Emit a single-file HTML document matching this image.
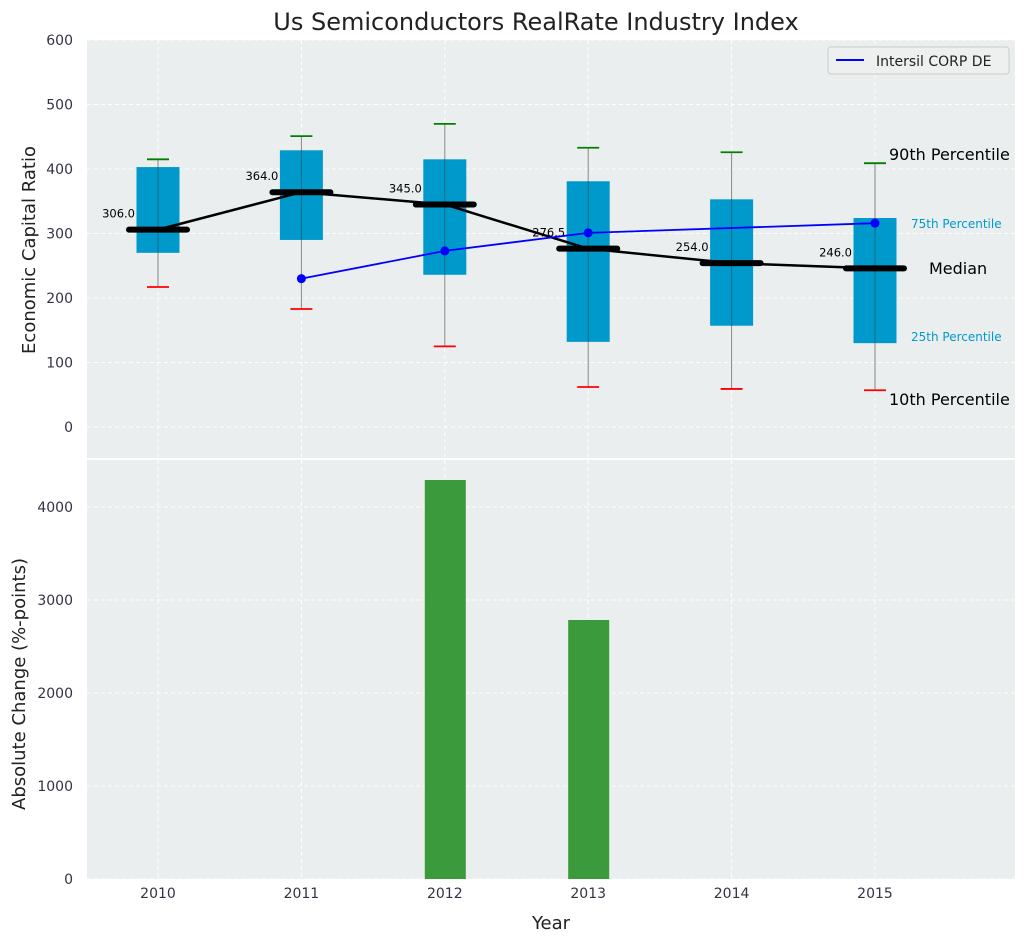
<!DOCTYPE html>
<html><head><meta charset="utf-8"><style>
body{margin:0;background:#fff;font-family:"Liberation Sans","DejaVu Sans",sans-serif}
svg text{font-family:"DejaVu Sans","Liberation Sans",sans-serif}
</style></head><body>
<svg id="chart" width="1026" height="942" xmlns="http://www.w3.org/2000/svg">
<text x="536" y="30" font-size="24" text-anchor="middle" fill="#222">Us Semiconductors RealRate Industry Index</text>
<rect x="87" y="40" width="928" height="418" fill="#eaeeee"/>
<rect x="87" y="460" width="928" height="419" fill="#eaeeee"/>
<g id="gtop"></g><g id="gbot"></g>
<text x="551" y="929" font-size="18" text-anchor="middle" fill="#222">Year</text>
<text transform="translate(35,250) rotate(-90)" font-size="18" text-anchor="middle" fill="#222">Economic Capital Ratio</text>
<text transform="translate(25,684) rotate(-90)" font-size="18" text-anchor="middle" fill="#222">Absolute Change (%-points)</text>
<g>
<rect x="828" y="47" width="181" height="27" fill="#eef0f0" stroke="#ccc" rx="3"/>
<line x1="836" y1="60" x2="864" y2="60" stroke="#0000ff" stroke-width="2"/>
<text x="876" y="66" font-size="14" fill="#222">Intersil CORP DE</text>
</g>
<text x="889" y="160" font-size="16" fill="#000">90th Percentile</text>
<text x="911" y="228" font-size="12" fill="#0099cc">75th Percentile</text>
<text x="929" y="274" font-size="16" fill="#000">Median</text>
<text x="911" y="341" font-size="12" fill="#0099cc">25th Percentile</text>
<text x="889" y="405" font-size="16" fill="#000">10th Percentile</text>
</svg>
<script>
const years=[2010,2011,2012,2013,2014,2015];
const p10=[217,183,125,62,59,57];
const p25=[270,290,236,132,157,130];
const median=[306.0,364.0,345.0,276.5,254.0,246.0];
const p75=[403,429,415,381,353,324];
const p90=[415,451,470,433,426,409];
const company=[null,230,273,301,null,316];
const changes=[null,null,4290,2785,null,null];
const topTicks=[0,100,200,300,400,500,600];
const botTicks=[0,1000,2000,3000,4000];
const NS="http://www.w3.org/2000/svg";
const X=v=>158+(v-2010)*143.4;
const Y1=v=>427-v*0.645;
const Y2=v=>879-v*0.093;
function mk(p,t,a){const e=document.createElementNS(NS,t);for(const k in a)e.setAttribute(k,a[k]);p.appendChild(e);return e;}
const gTop=document.getElementById('gtop'),gBot=document.getElementById('gbot');
topTicks.forEach(t=>{
 const l=mk(gTop,'line',{x1:87,x2:1015,y1:Y1(t),y2:Y1(t),stroke:'#fff','stroke-dasharray':'4,3'});
 
 
 const tx=mk(gTop,'text',{x:73,y:Y1(t)+5,'font-size':14,'text-anchor':'end',fill:'#334'});tx.textContent=t;
 
 
});
botTicks.forEach(t=>{
 const l=mk(gBot,'line',{x1:87,x2:1015,y1:Y2(t),y2:Y2(t),stroke:'#fff','stroke-dasharray':'4,3'});
 
 
 const tx=mk(gBot,'text',{x:73,y:Y2(t)+5,'font-size':14,'text-anchor':'end',fill:'#334'});tx.textContent=t;
 
 
});
years.forEach((y,i)=>{
 const x=X(y);
 [[40,458],[460,879]].forEach(r=>{const g=mk(gTop,'line',{x1:x,x2:x,y1:r[0],y2:r[1],stroke:'#fff','stroke-dasharray':'4,3'});
 
 });
 const tx=mk(gBot,'text',{x:x,y:898,'font-size':14,'text-anchor':'middle',fill:'#334'});tx.textContent=y;
 
 
 const w=mk(gTop,'line',{x1:x,x2:x,y1:Y1(p90[i]),y2:Y1(p10[i]),stroke:'#888','stroke-width':1});
 
 
 const b=mk(gTop,'rect',{x:x-21.5,y:Y1(p75[i]),width:43,height:Y1(p25[i])-Y1(p75[i]),fill:'#0099cc'});
 
 
 const w2=mk(gTop,'line',{x1:x,x2:x,y1:Y1(p75[i]),y2:Y1(p25[i]),stroke:'#1a6a80','stroke-width':1});
 
 
 const c1=mk(gTop,'line',{x1:x-11,x2:x+11,y1:Y1(p90[i]),y2:Y1(p90[i]),stroke:'green','stroke-width':1.8});
 
 
 const c2=mk(gTop,'line',{x1:x-11,x2:x+11,y1:Y1(p10[i]),y2:Y1(p10[i]),stroke:'red','stroke-width':1.8});
 
 
 if(changes[i]!=null){const r=mk(gBot,'rect',{x:x-20,y:Y2(changes[i]),width:41,height:Y2(0)-Y2(changes[i]),fill:'#3a9a3c'});
 
 }
});
const mp=mk(gTop,'polyline',{points:years.map((y,i)=>X(y)+','+Y1(median[i])).join(' '),fill:'none',stroke:'#000','stroke-width':2.5});


years.forEach((y,i)=>{
 const x=X(y);
 const m=mk(gTop,'line',{x1:x-29,x2:x+29,y1:Y1(median[i]),y2:Y1(median[i]),stroke:'#000','stroke-width':6,'stroke-linecap':'round'});
 
 
 const t=mk(gTop,'text',{x:x-23,y:Y1(median[i])-12,'font-size':11.5,'text-anchor':'end',fill:'#000'});t.textContent=median[i].toFixed(1);
 
 
});
const pts=years.map((y,i)=>company[i]==null?null:X(y)+','+Y1(company[i])).filter(p=>p);
const cl=mk(gTop,'polyline',{points:pts.join(' '),fill:'none',stroke:'#0000ff','stroke-width':1.8});


years.forEach((y,i)=>{if(company[i]!=null){const c=mk(gTop,'circle',{cx:X(y),cy:Y1(company[i]),r:4.5,fill:'#0000ff'});
 
 }});
</script>
</body></html>
